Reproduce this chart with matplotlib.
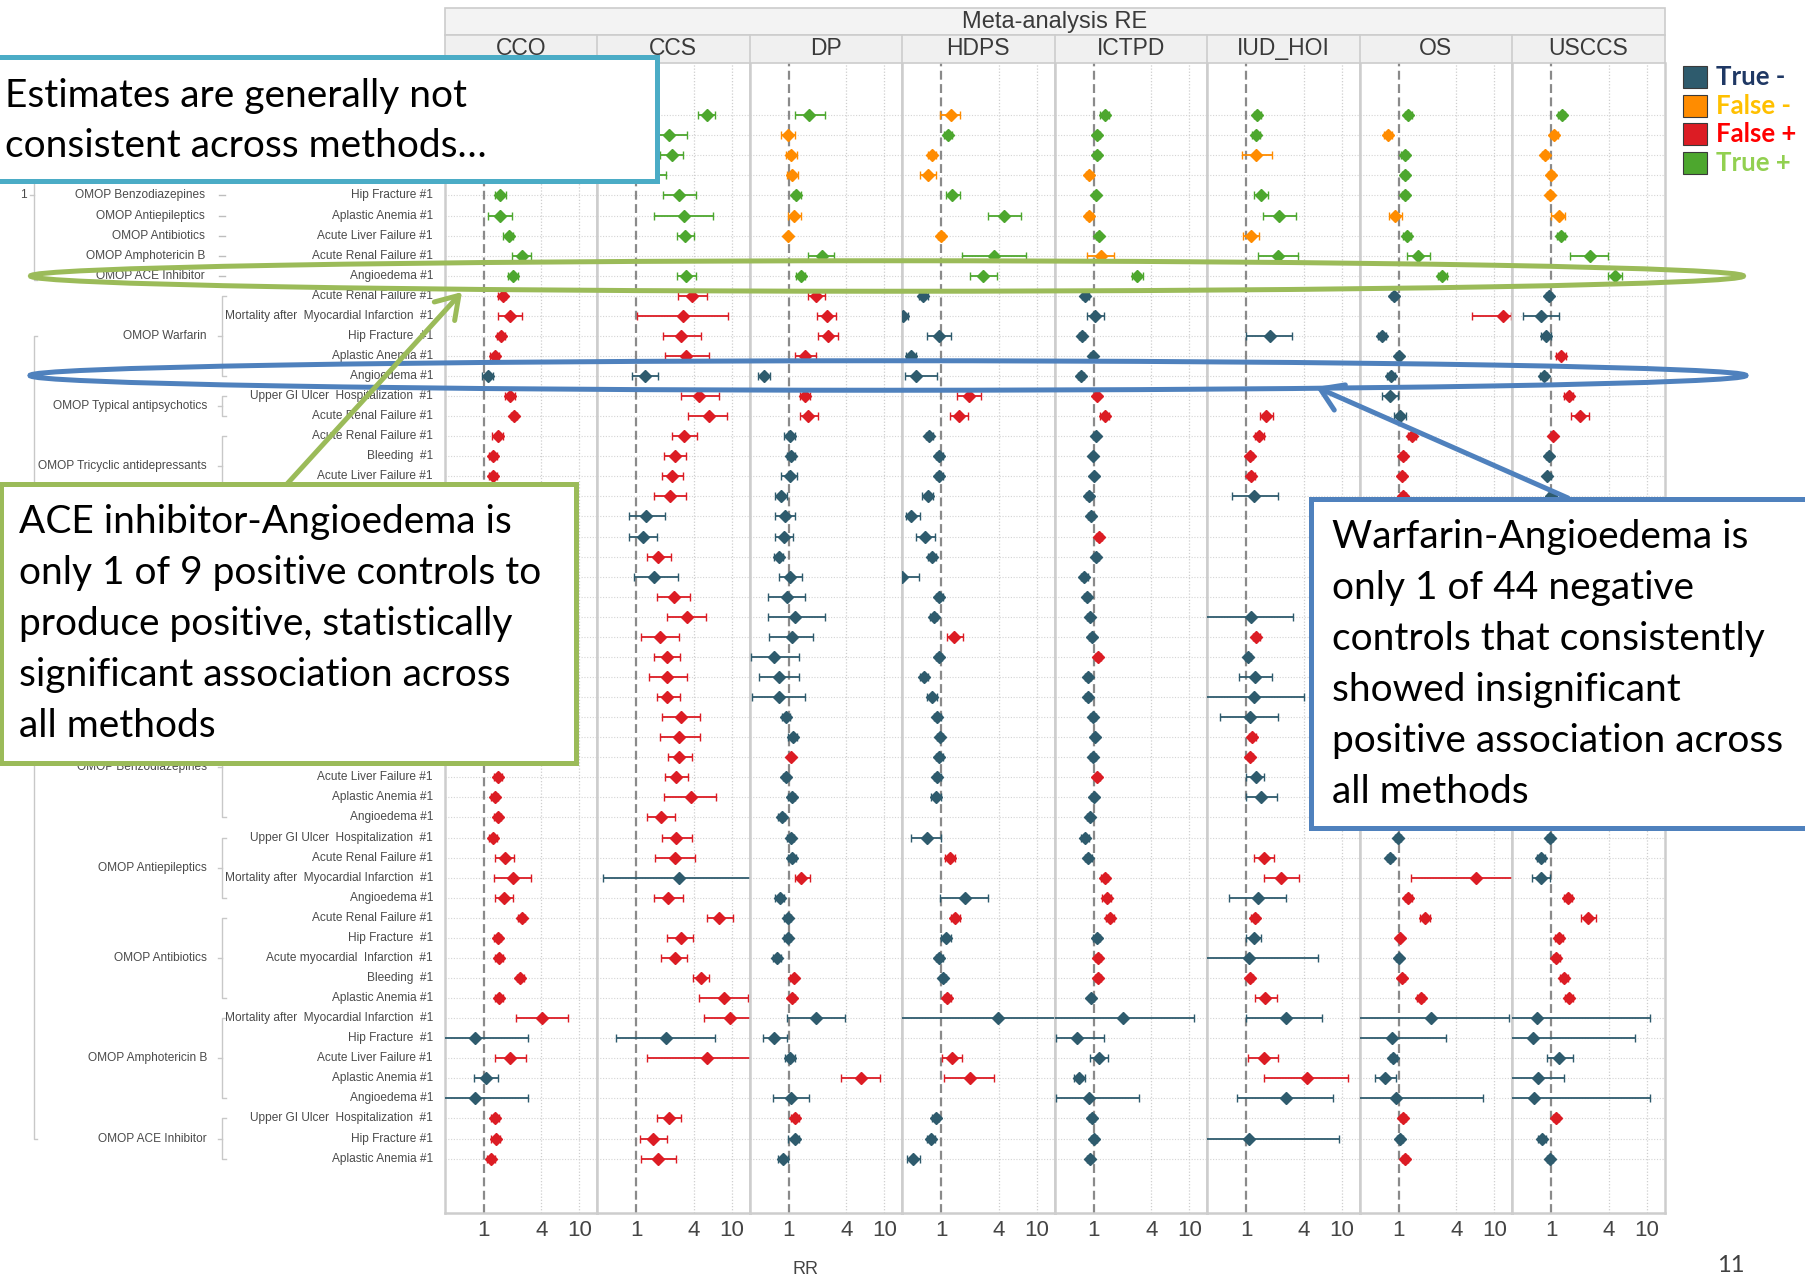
import numpy as np
import matplotlib
matplotlib.use("Agg")
import matplotlib.pyplot as plt
from matplotlib.patches import Rectangle, Ellipse, FancyArrowPatch
from matplotlib.ticker import NullLocator
from matplotlib import font_manager

nan = float("nan")

METHODS = ["CCO", "CCS", "DP", "HDPS", "ICTPD", "IUD_HOI", "OS", "USCCS"]

# positive controls (rows 1-9)
POS_DRUGS = ["OMOP Warfarin", "OMOP Typical antipsychotics", "OMOP Tricyclic antidepressants",
             "OMOP Bisphosphonates", "OMOP Benzodiazepines", "OMOP Antiepileptics",
             "OMOP Antibiotics", "OMOP Amphotericin B", "OMOP ACE Inhibitor"]
POS_OUTCOMES = ["Bleeding  #1", "Acute myocardial  Infarction  #1", "Acute myocardial  Infarction  #1",
                "Upper GI Ulcer  Hospitalization  #1", "Hip Fracture #1", "Aplastic Anemia #1",
                "Acute Liver Failure #1", "Acute Renal Failure #1", "Angioedema #1"]

# negative controls (rows 10-53)
NEG_GROUPS = ["OMOP Warfarin", "OMOP Typical antipsychotics", "OMOP Tricyclic antidepressants",
              "OMOP Bisphosphonates", "OMOP Beta blockers", "OMOP Benzodiazepines",
              "OMOP Antiepileptics", "OMOP Antibiotics", "OMOP Amphotericin B", "OMOP ACE Inhibitor"]
NEG_SIZES = [5, 2, 4, 5, 5, 6, 4, 5, 5, 3]
NEG_OUTCOMES = [
    "Acute Renal Failure #1", "Mortality after  Myocardial Infarction  #1", "Hip Fracture  #1",
    "Aplastic Anemia #1", "Angioedema #1",
    "Upper GI Ulcer  Hospitalization  #1", "Acute Renal Failure #1",
    "Acute Renal Failure #1", "Bleeding  #1", "Acute Liver Failure #1", "Aplastic Anemia #1",
    "Acute Renal Failure #1", "Aplastic Anemia #1", "Acute Liver Failure #1", "Angioedema #1", "Bleeding  #1",
    "Upper GI Ulcer  Hospitalization  #1", "Acute Renal Failure #1", "Acute Liver Failure #1",
    "Aplastic Anemia #1", "Bleeding  #1",
    "Upper GI Ulcer  Hospitalization  #1", "Acute Renal Failure #1", "Mortality after  Myocardial Infarction  #1",
    "Acute Liver Failure #1", "Aplastic Anemia #1", "Angioedema #1",
    "Upper GI Ulcer  Hospitalization  #1", "Acute Renal Failure #1",
    "Mortality after  Myocardial Infarction  #1", "Angioedema #1",
    "Acute Renal Failure #1", "Hip Fracture  #1", "Acute myocardial  Infarction  #1", "Bleeding  #1",
    "Aplastic Anemia #1",
    "Mortality after  Myocardial Infarction  #1", "Hip Fracture  #1", "Acute Liver Failure #1",
    "Aplastic Anemia #1", "Angioedema #1",
    "Upper GI Ulcer  Hospitalization  #1", "Hip Fracture #1", "Aplastic Anemia #1",
]

# RR estimates and CI per method, rows 1..53 (nan = no estimate)
CCO_EST = [1.6, 1.35, 1.5, 1.25, 1.47, 1.47, 1.82, 2.48, 2.03,
           1.57, 1.87, 1.5, 1.3, 1.1, 1.87, 2.09, 1.39, 1.24, 1.24,
           1.3, 1.45, 1.2, 1.35, 1.6, 1.25, 1.4, 1.3, 1.55, 1.2, 1.45, 1.35, 1.5, 1.3,
           1.4, 1.3, 1.39, 1.24, 1.68, 2.0, 1.62, 2.48, 1.39, 1.43, 2.41, 1.43, 4.06, 0.81,
           1.87, 1.05, 0.81, 1.3, 1.34, 1.19]
CCO_LO = [1.35, 1.2, 1.3, 1.1, 1.3, 1.1, 1.6, 1.96, 1.8,
          1.42, 1.4, 1.38, 1.17, 0.95, 1.65, 1.92, 1.22, 1.12, 1.12,
          1.15, 1.25, 1.05, 1.2, 1.3, 1.1, 1.2, 1.15, 1.3, 1.05, 1.25, 1.2, 1.3, 1.15,
          1.27, 1.2, 1.27, 1.12, 1.3, 1.27, 1.3, 2.28, 1.27, 1.3, 2.22, 1.3, 2.15, 0.3,
          1.3, 0.78, 0.3, 1.18, 1.2, 1.08]
CCO_HI = [1.9, 1.55, 1.75, 1.45, 1.7, 1.96, 2.03, 3.14, 2.3,
          1.72, 2.5, 1.65, 1.45, 1.25, 2.1, 2.25, 1.6, 1.38, 1.38,
          1.45, 1.7, 1.35, 1.5, 1.95, 1.4, 1.65, 1.5, 1.85, 1.35, 1.7, 1.5, 1.75, 1.45,
          1.55, 1.42, 1.52, 1.38, 2.09, 3.14, 2.03, 2.7, 1.52, 1.58, 2.62, 1.58, 7.6, 2.9,
          2.78, 1.4, 2.9, 1.43, 1.48, 1.3]

CCS_EST = [5.5, 2.2, 2.34, 1.45, 2.83, 3.17, 3.26, nan, 3.35,
           3.83, 3.05, 2.97, 3.35, 1.24, 4.5, 5.75, 3.17, 2.53, 2.34,
           2.27, 1.27, 1.17, 1.68, 1.53, 2.45, 3.42, 1.76, 2.09, 2.09, 2.09, 2.97, 2.83, 2.83,
           2.62, 3.7, 1.81, 2.62, 2.53, 2.83, 2.17, 7.4, 2.97, 2.53, 4.76, 8.3, 9.5, 2.03,
           5.5, nan, nan, 2.19, 1.5, 1.68]
CCS_LO = [4.4, 1.46, 1.76, 1.03, 1.9, 1.53, 2.65, nan, 2.65,
          2.7, 1.02, 1.9, 2.0, 0.9, 2.9, 3.5, 2.35, 1.97, 1.85,
          1.53, 0.84, 0.84, 1.3, 0.94, 1.63, 2.09, 1.12, 1.53, 1.35, 1.63, 1.85, 1.76, 2.13,
          1.99, 1.97, 1.3, 1.85, 1.57, 0.45, 1.53, 5.5, 2.09, 1.81, 3.95, 4.55, 5.1, 0.61,
          1.29, nan, nan, 1.63, 1.08, 1.12]
CCS_HI = [6.6, 3.4, 3.1, 2.05, 4.25, 6.4, 4.05, nan, 4.25,
          5.5, 9.2, 4.7, 5.7, 1.68, 7.4, 9.0, 4.3, 3.3, 3.05,
          3.3, 1.98, 1.63, 2.3, 2.75, 3.65, 5.4, 2.83, 2.88, 3.42, 2.88, 4.6, 4.6, 3.83,
          3.5, 6.8, 2.53, 3.83, 4.1, 20, 3.05, 10.4, 3.95, 3.42, 5.75, 14.8, 20, 6.6,
          20, nan, nan, 2.97, 2.07, 2.58]

DP_EST = [1.64, 0.97, 1.05, 1.09, 1.2, 1.14, 0.97, 2.2, 1.33,
          1.92, 2.5, 2.57, 1.49, 0.55, 1.46, 1.6, 1.02, 1.05, 1.02,
          0.83, 0.91, 0.88, 0.78, 1.02, 0.95, 1.17, 1.07, 0.7, 0.78, 0.78, 0.93, 1.1, 1.05,
          0.93, 1.07, 0.84, 1.05, 1.09, 1.35, 0.8, 0.97, 0.97, 0.75, 1.12, 1.09, 1.92, 0.7,
          1.02, 5.7, 1.05, 1.17, 1.15, 0.87]
DP_LO = [1.17, 0.83, 0.93, 0.95, 1.1, 0.97, 0.93, 1.6, 1.2,
         1.6, 1.95, 2.0, 1.15, 0.48, 1.3, 1.3, 0.9, 0.95, 0.83,
         0.72, 0.71, 0.71, 0.7, 0.78, 0.6, 0.6, 0.62, 0.4, 0.49, 0.41, 0.84, 0.98, 1.01,
         0.86, 0.98, 0.77, 0.96, 0.98, 1.15, 0.71, 0.9, 0.9, 0.68, 1.04, 1.02, 0.95, 0.53,
         0.91, 3.55, 0.69, 1.06, 0.99, 0.77]
DP_HI = [2.4, 1.17, 1.23, 1.25, 1.35, 1.35, 1.02, 3.0, 1.47,
         2.4, 3.1, 3.3, 1.93, 0.63, 1.65, 2.0, 1.16, 1.15, 1.23,
         0.96, 1.17, 1.1, 0.87, 1.38, 1.49, 2.39, 1.8, 1.29, 1.27, 1.49, 1.03, 1.22, 1.1,
         1.0, 1.16, 0.92, 1.14, 1.2, 1.67, 0.9, 1.05, 1.05, 0.83, 1.2, 1.17, 3.83, 0.95,
         1.15, 9.1, 1.63, 1.28, 1.28, 0.98]

HDPS_EST = [1.25, 1.17, 0.8, 0.73, 1.29, 4.5, 1.0, 3.6, 2.75,
            0.65, 0.4, 0.95, 0.48, 0.54, 1.94, 1.52, 0.75, 0.95, 0.95,
            0.72, 0.48, 0.68, 0.79, 0.39, 0.95, 0.83, 1.37, 0.94, 0.66, 0.79, 0.91, 0.97, 0.95,
            0.91, 0.87, nan, 0.7, 1.23, nan, 1.75, 1.39, 1.12, 0.95, 1.05, 1.15, 3.9, nan,
            1.29, 1.98, nan, 0.87, 0.77, 0.5]
HDPS_LO = [0.97, 1.06, 0.72, 0.6, 1.12, 3.1, 0.93, 1.66, 1.98,
           0.58, 0.35, 0.7, 0.43, 0.42, 1.46, 1.22, 0.69, 0.88, 0.87,
           0.63, 0.43, 0.54, 0.72, 0.3, 0.88, 0.76, 1.15, 0.87, 0.6, 0.7, 0.84, 0.9, 0.88,
           0.84, 0.77, nan, 0.48, 1.1, nan, 0.97, 1.25, 0.98, 0.88, 0.97, 1.06, 0.3, nan,
           1.01, 1.07, nan, 0.8, 0.7, 0.44]
HDPS_HI = [1.56, 1.3, 0.88, 0.88, 1.56, 6.8, 1.07, 7.7, 3.83,
           0.72, 0.45, 1.27, 0.54, 0.91, 2.6, 1.88, 0.82, 1.03, 1.04,
           0.82, 0.6, 0.85, 0.87, 0.59, 1.03, 0.91, 1.68, 1.02, 0.73, 0.9, 0.99, 1.05, 1.03,
           0.99, 0.98, nan, 1.0, 1.4, nan, 3.08, 1.55, 1.27, 1.03, 1.13, 1.25, 20, nan,
           1.63, 3.55, nan, 0.95, 0.85, 0.6]

ICTPD_EST = [1.3, 1.08, 1.08, 0.89, 1.05, 0.89, 1.12, 1.18, 2.85,
             0.81, 1.03, 0.75, 0.97, 0.73, 1.08, 1.3, 1.05, 0.98, 1.0,
             0.89, 0.94, 1.13, 1.05, 0.79, 0.84, 0.91, 0.95, 1.1, 0.87, 0.87, 0.98, 1.02, 0.98,
             1.08, 1.0, 0.91, 0.81, 0.87, 1.3, 1.36, 1.46, 1.07, 1.1, 1.1, 0.94, 2.04, 0.67,
             1.13, 0.7, 0.88, 0.95, 1.0, 0.91]
ICTPD_LO = [1.17, 1.02, 1.02, 0.82, 1.01, 0.82, 1.05, 0.84, 2.5,
            0.75, 0.85, 0.7, 0.92, 0.68, 1.02, 1.17, 0.99, 0.93, 0.95,
            0.83, 0.87, 1.05, 0.99, 0.73, 0.78, 0.85, 0.89, 1.03, 0.81, 0.81, 0.92, 0.96, 0.92,
            1.02, 0.94, 0.85, 0.73, 0.8, 1.2, 1.22, 1.33, 0.99, 1.03, 1.03, 0.88, 0.3, 0.4,
            0.91, 0.62, 0.4, 0.89, 0.94, 0.85]
ICTPD_HI = [1.45, 1.15, 1.15, 0.97, 1.1, 0.97, 1.2, 1.64, 3.25,
            0.88, 1.27, 0.81, 1.03, 0.79, 1.14, 1.45, 1.1, 1.04, 1.06,
            0.96, 1.01, 1.22, 1.12, 0.86, 0.91, 0.98, 1.01, 1.18, 0.94, 0.94, 1.05, 1.09, 1.05,
            1.15, 1.06, 0.98, 0.9, 0.95, 1.4, 1.52, 1.62, 1.15, 1.18, 1.18, 1.01, 11.2, 1.27,
            1.42, 0.81, 3.0, 1.02, 1.07, 0.98]

IUD_EST = [1.3, 1.27, 1.27, nan, 1.42, 2.2, 1.13, 2.14, nan,
           nan, nan, 1.77, nan, nan, nan, 1.61, 1.37, 1.1, 1.13,
           1.21, nan, nan, nan, nan, nan, 1.12, 1.27, 1.05, 1.23, 1.19, 1.08, 1.15, 1.1,
           1.27, 1.44, nan, nan, 1.54, 2.29, 1.33, 1.23, 1.19, 1.07, 1.1, 1.58, 2.6, nan,
           1.54, 4.3, 2.6, nan, 1.07, nan]
IUD_LO = [1.2, 1.15, 0.9, nan, 1.2, 1.5, 0.93, 1.33, nan,
          nan, nan, 0.99, nan, nan, nan, 1.38, 1.22, 1.03, 1.05,
          0.7, nan, nan, nan, nan, nan, 0.3, 1.18, 0.97, 0.83, 0.3, 0.53, 1.06, 1.03,
          0.99, 0.99, nan, nan, 1.21, 1.54, 0.66, 1.13, 0.99, 0.3, 1.03, 1.23, 0.99, nan,
          1.05, 1.54, 0.79, nan, 0.3, nan]
IUD_HI = [1.42, 1.4, 1.86, nan, 1.7, 3.3, 1.37, 3.5, nan,
          nan, nan, 3.0, nan, nan, nan, 1.88, 1.53, 1.18, 1.22,
          2.14, nan, nan, nan, nan, nan, 3.08, 1.38, 1.12, 1.86, 4.0, 2.14, 1.25, 1.18,
          1.53, 2.08, nan, nan, 1.95, 3.55, 2.6, 1.33, 1.43, 5.66, 1.18, 2.08, 6.2, nan,
          2.14, 11.6, 8.1, nan, 9.4, nan]

OS_EST = [1.25, 0.77, 1.15, 1.16, 1.16, 0.92, 1.21, 1.58, 2.85,
          0.88, 12.3, 0.67, 1.0, 0.83, 0.81, 1.03, 1.37, 1.11, 1.08,
          1.11, 1.05, 1.2, 0.95, 1.1, 1.3, 1.0, 1.15, 0.9, 1.05, 1.4, 1.1, 1.2, 1.05,
          1.25, 1.15, 1.0, 0.98, 0.81, 6.5, 1.25, 1.88, 1.03, 1.0, 1.08, 1.69, 2.16, 0.85,
          0.87, 0.72, 0.94, 1.11, 1.03, 1.16]
OS_LO = [1.15, 0.7, 1.06, 1.07, 1.07, 0.79, 1.1, 1.22, 2.55,
         0.82, 5.8, 0.61, 0.94, 0.76, 0.67, 0.9, 1.25, 1.04, 1.02,
         1.03, 0.95, 1.08, 0.85, 0.97, 1.15, 0.6, 1.05, 0.8, 0.8, 0.5, 0.9, 1.1, 0.97,
         1.1, 0.95, 0.9, 0.92, 0.76, 1.34, 1.15, 1.66, 1.005, 0.94, 1.02, 1.55, 0.3, 0.3,
         0.8, 0.56, 0.3, 1.03, 0.95, 1.07]
OS_HI = [1.36, 0.85, 1.25, 1.26, 1.26, 1.07, 1.33, 2.1, 3.2,
         0.95, 14.9, 0.74, 1.06, 0.91, 0.98, 1.18, 1.5, 1.19, 1.15,
         1.2, 1.15, 1.33, 1.06, 1.25, 1.47, 1.7, 1.26, 1.02, 1.4, 4.0, 1.35, 1.3, 1.14,
         1.42, 1.4, 1.1, 1.05, 0.86, 20, 1.36, 2.14, 1.09, 1.06, 1.15, 1.85, 14.1, 3.14,
         0.95, 0.94, 7.6, 1.2, 1.11, 1.26]

USCCS_EST = [1.29, 1.07, 0.86, 1.0, 0.97, 1.21, 1.26, 2.52, 4.6,
             0.94, 0.77, 0.87, 1.26, 0.83, 1.52, 1.99, 1.04, 0.94, 0.91,
             1.0, 0.95, 1.15, 1.05, 0.9, 1.2, 1.1, 1.3, 0.92, 1.0, 1.1, 1.2, 1.1, 0.98,
             1.15, 1.3, 0.95, 0.97, 0.77, 0.77, 1.49, 2.4, 1.2, 1.12, 1.36, 1.52, 0.7, 0.65,
             1.21, 0.73, 0.66, 1.12, 0.8, 0.97]
USCCS_LO = [1.18, 0.98, 0.8, 0.93, 0.9, 0.99, 1.15, 1.56, 3.9,
            0.87, 0.5, 0.77, 1.13, 0.76, 1.36, 1.6, 1.01, 0.88, 0.85,
            0.92, 0.85, 1.05, 0.95, 0.78, 1.08, 0.5, 1.15, 0.82, 0.75, 0.45, 0.95, 1.02, 0.9,
            1.05, 1.0, 0.85, 0.9, 0.7, 0.62, 1.36, 2.02, 1.1, 1.03, 1.24, 1.38, 0.3, 0.3,
            0.9, 0.3, 0.3, 1.04, 0.73, 0.9]
USCCS_HI = [1.4, 1.17, 0.93, 1.07, 1.05, 1.4, 1.38, 3.95, 5.5,
            1.01, 1.21, 0.98, 1.41, 0.91, 1.7, 2.47, 1.08, 1.0, 0.98,
            1.09, 1.06, 1.26, 1.16, 1.04, 1.33, 2.5, 1.47, 1.03, 1.35, 3.5, 1.5, 1.19, 1.07,
            1.26, 1.7, 1.06, 1.04, 0.85, 0.97, 1.63, 2.9, 1.31, 1.22, 1.49, 1.68, 10.7, 7.5,
            1.69, 1.36, 10.7, 1.2, 0.87, 1.05]

DATA = {
    "CCO": (CCO_EST, CCO_LO, CCO_HI), "CCS": (CCS_EST, CCS_LO, CCS_HI),
    "DP": (DP_EST, DP_LO, DP_HI), "HDPS": (HDPS_EST, HDPS_LO, HDPS_HI),
    "ICTPD": (ICTPD_EST, ICTPD_LO, ICTPD_HI), "IUD_HOI": (IUD_EST, IUD_LO, IUD_HI),
    "OS": (OS_EST, OS_LO, OS_HI), "USCCS": (USCCS_EST, USCCS_LO, USCCS_HI),
}

STATUS_LABELS = ["True -", "False -", "False +", "True +"]
STATUS_COLORS = {"True -": "#2E5B6D", "False -": "#FF8C00", "False +": "#DC1C24", "True +": "#4DA72E"}
LEGEND_TEXT_COLORS = ["#1F3864", "#FFC000", "#FF0000", "#92D050"]

CALLOUT_TOP = ["Estimates are generally not", "consistent across methods\u2026"]
CALLOUT_GREEN = ["ACE inhibitor-Angioedema is", "only 1 of 9 positive controls to",
                 "produce positive, statistically", "significant association across",
                 "all methods"]
CALLOUT_BLUE = ["Warfarin-Angioedema is", "only 1 of 44 negative", "controls that consistently",
                "showed insignificant", "positive association across", "all methods"]

# ---------------------------------------------------------------- layout
W, H, DPI = 1806, 1279, 100
installed = {f.name for f in font_manager.fontManager.ttflist}
SANS = "Liberation Sans" if "Liberation Sans" in installed else "DejaVu Sans"
CALLOUT = "Lato" if "Lato" in installed else "DejaVu Sans"
plt.rcParams["font.family"] = [SANS, "DejaVu Sans"]

N_POS = len(POS_DRUGS)
N = N_POS + len(NEG_OUTCOMES)
rows = np.arange(1, N + 1)

PANEL_L, PANEL_W, PANEL_T, PANEL_B = 444.6, 152.5, 63.0, 1213.0
XLIM = (0.388, 15.35)
YLIM = (55.71, -1.60)
LBL = "#4a4a4a"
CALLOUT_FS = 28

# callout boxes in pixels: (x0, y0, x1, y1, edge colour)
BOX_TOP = (-20, 56.5, 657, 181, "#4BACC6")
BOX_GREEN = (1.5, 483.5, 576, 762.5, "#9BBB59")
BOX_BLUE = (1311, 499, 1851, 828, "#4F81BD")

fig = plt.figure(figsize=(W / DPI, H / DPI), dpi=DPI)
fig.patch.set_facecolor("white")


def px_axes(x0, y0, x1, y1, **kw):
    return fig.add_axes([x0 / W, 1 - y1 / H, (x1 - x0) / W, (y1 - y0) / H], **kw)


def row_px(r):
    return PANEL_T + (r - YLIM[1]) / (YLIM[0] - YLIM[1]) * (PANEL_B - PANEL_T)


def hidden(r):
    """True when a label line sits completely under a callout box."""
    y = row_px(r)
    for x0, y0, x1, y1, _ in (BOX_TOP, BOX_GREEN):
        if y0 - 1 <= y - 6 and y + 6 <= y1 + 2:
            return True
    return False


def label(x, r, s, **kw):
    if not hidden(r):
        lab.text(x, r, s, va="center", fontsize=8.6, color=LBL, **kw)


# ---------------------------------------------------------------- panels
for k, m in enumerate(METHODS):
    ax = px_axes(PANEL_L + k * PANEL_W, PANEL_T, PANEL_L + (k + 1) * PANEL_W, PANEL_B)
    ax.set_xscale("log")
    ax.set_xlim(*XLIM)
    ax.set_ylim(*YLIM)
    for r in rows:
        ax.axhline(r, color="#d4d4d4", lw=0.8, ls=(0, (1, 1.5)), zorder=0)
    for v in (4, 10):
        ax.axvline(v, color="#cfcfcf", lw=0.9, ls=(0, (1, 1.5)), zorder=0)
    ax.axvline(1, color="#8a8a8a", lw=1.6, ls=(0, (4, 2)), zorder=1)

    est, lo, hi = (np.array(a, dtype=float) for a in DATA[m])
    ok = ~np.isnan(est)
    sig = np.nan_to_num(lo, nan=0.0) > 1
    status = np.where(rows <= N_POS, np.where(sig, "True +", "False -"),
                      np.where(sig, "False +", "True -"))
    for s in STATUS_LABELS:
        sel = ok & (status == s)
        if not sel.any():
            continue
        c = STATUS_COLORS[s]
        ax.errorbar(est[sel], rows[sel], xerr=[est[sel] - lo[sel], hi[sel] - est[sel]],
                    fmt="D", ms=5.8, mew=1.0, color=c, ecolor=c, elinewidth=1.3,
                    capsize=3.0, capthick=1.3, zorder=3)

    ax.set_xticks([1, 4, 10])
    ax.set_xticklabels(["1", "4", "10"])
    ax.xaxis.set_minor_locator(NullLocator())
    ax.tick_params(axis="x", length=0, pad=5, labelsize=16, labelcolor="#444444")
    ax.set_yticks([])
    ax.spines["top"].set_visible(False)
    for side in ("left", "right", "bottom"):
        ax.spines[side].set_color("#cdcdcd")
        ax.spines[side].set_linewidth(1.8)

# ---------------------------------------------------------------- row labels
lab = px_axes(0, PANEL_T, PANEL_L, PANEL_B)
lab.set_xlim(0, PANEL_L)
lab.set_ylim(*YLIM)
lab.axis("off")
for i in range(N_POS):
    r = i + 1
    label(205, r, POS_DRUGS[i], ha="right")
    lab.plot([219, 225], [r, r], color="#bdbdbd", lw=1.0)
    label(433, r, POS_OUTCOMES[i], ha="right")

start = N_POS + 1
for name, size in zip(NEG_GROUPS, NEG_SIZES):
    r0, r1 = start, start + size - 1
    lab.plot([226, 222, 222, 226], [r0, r0, r1, r1], color="#c8c8c8", lw=1.0)
    mid = (r0 + r1) / 2
    lab.plot([218, 222], [mid, mid], color="#c8c8c8", lw=1.0)
    label(207, mid, name, ha="right")
    start += size
for j, txt in enumerate(NEG_OUTCOMES):
    label(433, N_POS + 1 + j, txt, ha="right")

# outer "true effect" brackets
lab.plot([37, 34, 34, 37], [1, 1, N_POS + 0.2, N_POS + 0.2], color="#c8c8c8", lw=1.0)
lab.plot([30, 34], [(1 + N_POS) / 2] * 2, color="#c8c8c8", lw=1.0)
label(23, (1 + N_POS) / 2, "1", ha="center")
lab.plot([37, 34, 34, 37], [N_POS + 3, N_POS + 3, N - 1, N - 1], color="#c8c8c8", lw=1.0)
label(23, (N_POS + 2 + N) / 2, "0", ha="center")

# ---------------------------------------------------------------- overlay (pixel coords)
ov = fig.add_axes([0, 0, 1, 1], zorder=10)
ov.set_xlim(0, W)
ov.set_ylim(H, 0)
ov.axis("off")

# facet headers
ov.add_patch(Rectangle((PANEL_L, 8), 8 * PANEL_W, 27, fc="#f3f3f3", ec="#cccccc", lw=1.2, zorder=1))
ov.text(PANEL_L + 4 * PANEL_W, 28, "Meta-analysis RE", ha="center", va="baseline",
        fontsize=17, color="#3a3a3a", zorder=2)
ov.add_patch(Rectangle((PANEL_L, 35), 8 * PANEL_W, 28, fc="#f0f0f0", ec="#cccccc", lw=1.2, zorder=1))
for k, m in enumerate(METHODS):
    x = PANEL_L + k * PANEL_W
    if k:
        ov.plot([x, x], [35, 63], color="#cccccc", lw=1.2, zorder=2)
    ov.text(x + PANEL_W / 2, 55, m, ha="center", va="baseline", fontsize=16.5,
            color="#3a3a3a", zorder=2)

ov.text(806, 1270, "RR", ha="center", va="center", fontsize=13, color="#444444")
ov.text(1731, 1266, "11", ha="center", va="center", fontsize=17, color="#404040",
        family=CALLOUT)

# legend
for i, (s, tc) in enumerate(zip(STATUS_LABELS, LEGEND_TEXT_COLORS)):
    y0 = 66 + 28.6 * i
    ov.add_patch(Rectangle((1683, y0), 24, 22, fc=STATUS_COLORS[s], ec="#3a3a3a", lw=0.8, zorder=3))
    ov.text(1716, y0 + 19, s, ha="left", va="baseline", fontsize=18.5, fontweight="bold",
            color=tc, family=CALLOUT, zorder=3)

# highlight ellipses
ov.add_patch(Ellipse((887, 276), 1713, 30.5, fill=False, ec="#9BBB59", lw=3.6, zorder=5))
ov.add_patch(Ellipse((888, 375.5), 1716, 29.5, fill=False, ec="#4F81BD", lw=3.6, zorder=5))

# callout boxes and their text
for (x0, y0, x1, y1, ec), lines, tx, ty in [(BOX_TOP, CALLOUT_TOP, 5, 107),
                                             (BOX_GREEN, CALLOUT_GREEN, 19, 533),
                                             (BOX_BLUE, CALLOUT_BLUE, 1332, 548)]:
    ov.add_patch(Rectangle((x0, y0), x1 - x0, y1 - y0, fc="white", ec=ec, lw=3.6, zorder=6))
    step = 50 if lines is CALLOUT_TOP else 51
    for i, line in enumerate(lines):
        ov.text(tx, ty + step * i, line, ha="left", va="baseline", fontsize=CALLOUT_FS,
                family=CALLOUT, color="black", zorder=7)

# arrows
for (x0, y0), (x1, y1), c in [((287, 484), (462, 292), "#9BBB59"),
                              ((1568, 498), (1316, 387), "#4F81BD")]:
    ov.add_patch(FancyArrowPatch((x0, y0), (x1, y1), arrowstyle="->,head_length=0.7,head_width=0.45",
                                 mutation_scale=22, lw=3.6, color=c, shrinkA=0, shrinkB=0,
                                 capstyle="round", zorder=8))

fig.savefig("out.png", dpi=DPI, facecolor="white")
